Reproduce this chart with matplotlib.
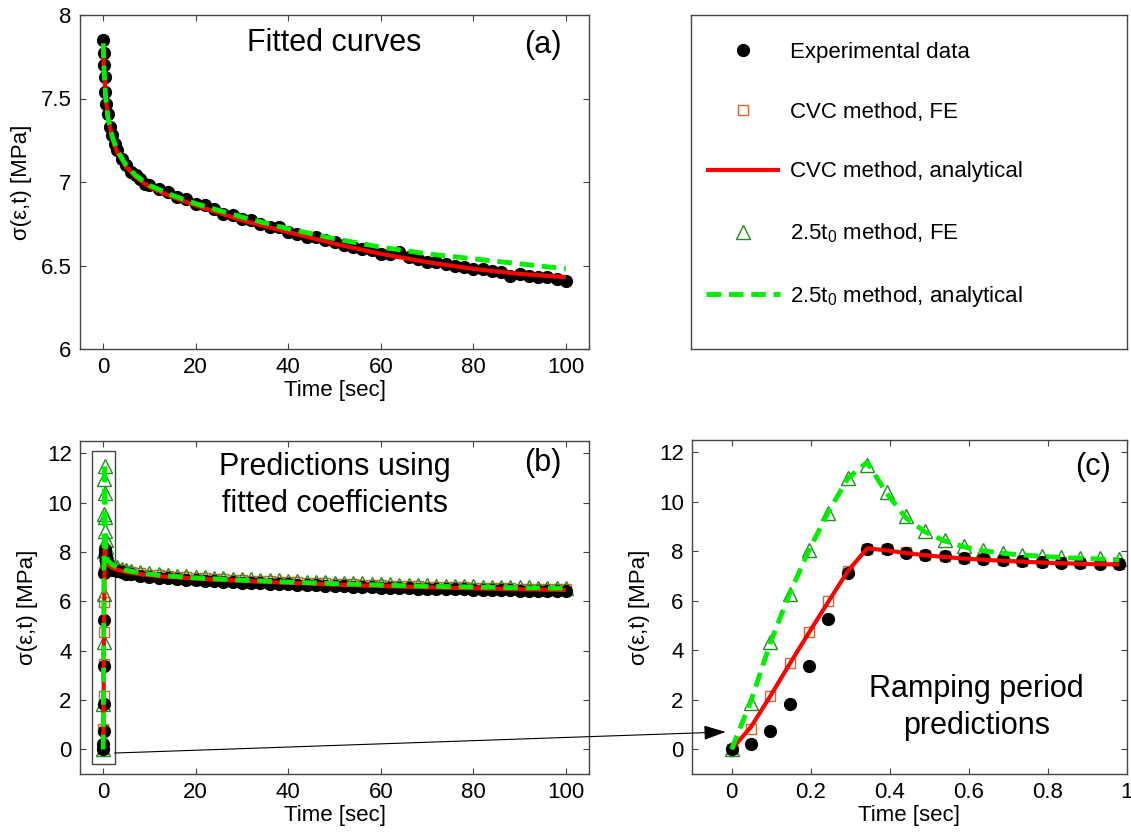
import numpy as np
import matplotlib
matplotlib.use("Agg")
import matplotlib.pyplot as plt
from matplotlib.patches import Rectangle, ConnectionPatch

plt.rcParams['font.family'] = ['Liberation Sans', 'DejaVu Sans']
plt.rcParams['mathtext.fontset'] = 'custom'
plt.rcParams['mathtext.rm'] = 'Liberation Sans'
plt.rcParams['mathtext.it'] = 'Liberation Sans'

# ---- data ----
# shared tail time grid (sec)
t_tail = [12, 14, 16, 18, 20, 22, 24, 26, 28, 30, 32, 34, 36, 38, 40, 42, 44, 46, 48, 50,
          52, 54, 56, 58, 60, 62, 64, 66, 68, 70, 72, 74, 76, 78, 80, 82, 84, 86, 88, 90,
          92, 94, 96, 98, 100]

# (a) fitted curves
t_a = [0, 0.1, 0.2, 0.3, 0.5, 0.7, 1, 1.5, 2, 2.5, 3, 4, 5, 6, 7, 8, 9, 10] + t_tail
exp_a = [7.85, 7.77, 7.70, 7.63, 7.54, 7.47, 7.41, 7.33, 7.28, 7.23, 7.19, 7.14, 7.10, 7.06,
         7.04, 7.02, 6.99, 6.98,
         6.96, 6.94, 6.91, 6.90, 6.87, 6.86, 6.84, 6.81, 6.80, 6.78, 6.77, 6.75, 6.73, 6.73,
         6.70, 6.69, 6.67, 6.67, 6.65, 6.64, 6.62, 6.61, 6.60, 6.59, 6.57, 6.57, 6.58, 6.55,
         6.54, 6.52, 6.52, 6.51, 6.50, 6.49, 6.48, 6.48, 6.47, 6.46, 6.44, 6.45, 6.44, 6.43,
         6.43, 6.42, 6.41]
t_a_line = [0, 0.2, 0.5, 1, 2, 3, 5, 7, 10, 15, 20, 30, 40, 50, 60, 70, 80, 90, 100]
cvc_a = [7.83, 7.67, 7.52, 7.39, 7.26, 7.18, 7.09, 7.03, 6.97, 6.91, 6.86, 6.77, 6.70, 6.63,
         6.57, 6.52, 6.48, 6.45, 6.43]
t25_a = [7.83, 7.67, 7.52, 7.39, 7.27, 7.19, 7.10, 7.04, 6.98, 6.92, 6.87, 6.79, 6.72, 6.66,
         6.61, 6.57, 6.54, 6.51, 6.48]

# (c) ramping period
t_c = [0, 0.049, 0.098, 0.147, 0.196, 0.245, 0.294, 0.343, 0.392, 0.441, 0.49, 0.539,
       0.588, 0.637, 0.686, 0.735, 0.784, 0.833, 0.882, 0.931, 0.98]
exp_c = [0, 0.2, 0.74, 1.82, 3.38, 5.25, 7.13, 8.08, 8.08, 7.95, 7.86, 7.80, 7.72, 7.68,
         7.63, 7.60, 7.57, 7.54, 7.52, 7.50, 7.48]
cvc_fe_c = [0, 0.81, 2.15, 3.47, 4.74, 5.99, 7.19, 8.10, 8.08, 7.97, 7.87, 7.80, 7.74, 7.69,
            7.65, 7.61, 7.58, 7.55, 7.53, 7.51, 7.49]
cvc_an_c = [0, 0.9, 2.15, 3.45, 4.72, 5.97, 7.2, 8.12, 8.04, 7.93, 7.84, 7.77, 7.71, 7.66,
            7.62, 7.58, 7.55, 7.52, 7.50, 7.48, 7.47]
t25_fe_c = [0, 1.85, 4.34, 6.29, 8.04, 9.54, 10.97, 11.5, 10.39, 9.41, 8.84, 8.47, 8.20,
            8.04, 7.93, 7.86, 7.81, 7.77, 7.74, 7.72, 7.70]
t25_an_c = [0, 1.95, 4.3, 6.3, 8.05, 9.6, 10.95, 11.6, 10.35, 9.35, 8.78, 8.42, 8.18, 8.02,
            7.92, 7.85, 7.80, 7.75, 7.72, 7.69, 7.66]

# (b) hold period after the ramp
t_hold = [1.2, 1.6, 2, 3, 4, 5, 6, 8, 10] + t_tail
exp_b = [7.40, 7.33, 7.29, 7.22, 7.18, 7.12, 7.10, 7.03, 7.00, 6.95, 6.94, 6.90, 6.87, 6.86,
         6.84, 6.81, 6.80, 6.78, 6.76, 6.75, 6.74, 6.71, 6.71, 6.69, 6.67, 6.66, 6.65, 6.63,
         6.62, 6.61, 6.60, 6.59, 6.57, 6.56, 6.55, 6.54, 6.53, 6.52, 6.50, 6.50, 6.50, 6.48,
         6.48, 6.47, 6.46, 6.45, 6.45, 6.44, 6.43, 6.43, 6.42, 6.41, 6.41, 6.40]
cvc_fe_b = [7.48, 7.43, 7.38, 7.31, 7.26, 7.22, 7.18, 7.13, 7.08, 7.05, 7.02, 6.99, 6.97, 6.95,
            6.93, 6.91, 6.89, 6.87, 6.86, 6.84, 6.83, 6.81, 6.80, 6.78, 6.77, 6.75, 6.74, 6.73,
            6.71, 6.70, 6.69, 6.68, 6.66, 6.65, 6.64, 6.63, 6.62, 6.61, 6.60, 6.59, 6.59, 6.58,
            6.57, 6.56, 6.55, 6.54, 6.54, 6.53, 6.52, 6.52, 6.51, 6.50, 6.50, 6.49]
t25_fe_b = [7.64, 7.56, 7.48, 7.39, 7.33, 7.28, 7.24, 7.18, 7.13, 7.10, 7.07, 7.04, 7.02, 7.00,
            6.98, 6.96, 6.94, 6.92, 6.91, 6.89, 6.88, 6.86, 6.85, 6.83, 6.82, 6.80, 6.79, 6.78,
            6.76, 6.75, 6.74, 6.73, 6.71, 6.70, 6.69, 6.68, 6.67, 6.66, 6.65, 6.64, 6.64, 6.63,
            6.62, 6.61, 6.60, 6.59, 6.59, 6.58, 6.57, 6.57, 6.56, 6.55, 6.55, 6.54]
t_b_line = [1.2, 2, 3, 5, 8, 12, 20, 30, 40, 50, 60, 70, 80, 90, 100]
cvc_an_b = [7.45, 7.35, 7.28, 7.19, 7.10, 7.02, 6.92, 6.83, 6.75, 6.68, 6.62, 6.57, 6.53, 6.49, 6.46]
t25_an_b = [7.62, 7.48, 7.38, 7.26, 7.15, 7.06, 6.95, 6.86, 6.78, 6.72, 6.66, 6.61, 6.58, 6.55, 6.53]

labels = ['Experimental data', 'CVC method, FE', 'CVC method, analytical',
          '2.5t$_0$ method, FE', '2.5t$_0$ method, analytical']

# ---- styles ----
SQ_C = '#cc6633'
TRI_C = '#228b22'
DASH_C = '#00ee00'
SPINE_C = '#444444'
exp_kw = dict(ls='none', marker='o', ms=8.5, mfc='k', mec='k')
sq_kw = dict(ls='none', marker='s', ms=7, mfc='none', mec=SQ_C, mew=1)
tri_kw = dict(ls='none', marker='^', ms=9.5, mfc='none', mec=TRI_C, mew=1)
red_kw = dict(color='red', lw=3, solid_capstyle='butt')
dash_kw = dict(color=DASH_C, lw=3.5, ls=(0, (3, 1.6)))

W, H = 1131, 834
fig = plt.figure(figsize=(W / 100, H / 100), dpi=100)


def px_axes(l, t, r, b):
    return fig.add_axes([l / W, 1 - b / H, (r - l) / W, (b - t) / H])


def style(ax):
    for s in ax.spines.values():
        s.set_color(SPINE_C)
        s.set_linewidth(1)
    ax.tick_params(direction='in', top=True, right=True, length=4, width=0.8,
                   color=SPINE_C, labelsize=16, pad=6)


ax_a = px_axes(80, 15, 589, 349)
ax_b = px_axes(80, 441, 589, 774)
ax_c = px_axes(692, 440, 1127, 774)
ax_l = px_axes(691, 15, 1127, 349)

# (a)
ax_a.plot(t_a, exp_a, **exp_kw)
ax_a.plot(t_a_line, cvc_a, **red_kw)
ax_a.plot(t_a_line, t25_a, **dash_kw)
ax_a.set_xlim(-5, 105)
ax_a.set_ylim(6, 8)
ax_a.set_xticks([0, 20, 40, 60, 80, 100])
ax_a.set_yticks([6, 6.5, 7, 7.5, 8])
ax_a.set_yticklabels(['6', '6.5', '7', '7.5', '8'])
ax_a.text(50, 7.83, 'Fitted curves', ha='center', va='center', fontsize=22)
ax_a.text(95, 7.82, '(a)', ha='center', va='center', fontsize=22)

# (b)
ax_b.plot(t_c, cvc_fe_c, **sq_kw)
ax_b.plot(t_hold, cvc_fe_b, **sq_kw)
ax_b.plot(t_c, t25_fe_c, **tri_kw)
ax_b.plot(t_hold, t25_fe_b, **tri_kw)
ax_b.plot(t_c, exp_c, **exp_kw)
ax_b.plot(t_hold, exp_b, **exp_kw)
ax_b.plot(t_c + t_b_line, cvc_an_c + cvc_an_b, **red_kw)
ax_b.plot(t_c + t_b_line, t25_an_c + t25_an_b, **dash_kw)
ax_b.add_patch(Rectangle((-2.4, -0.6), 4.9, 12.7, fill=False, ec=SPINE_C, lw=1))
ax_b.set_xlim(-5, 105)
ax_b.set_ylim(-1, 12.5)
ax_b.set_xticks([0, 20, 40, 60, 80, 100])
ax_b.set_yticks(range(0, 13, 2))
ax_b.text(50, 10.7, 'Predictions using\nfitted coefficients', ha='center', va='center',
          fontsize=22, linespacing=1.3)
ax_b.text(95, 11.6, '(b)', ha='center', va='center', fontsize=22)

# (c)
ax_c.plot(t_c, cvc_fe_c, **sq_kw)
ax_c.plot(t_c, t25_fe_c, **tri_kw)
ax_c.plot(t_c, exp_c, **exp_kw)
ax_c.plot(t_c, cvc_an_c, **red_kw)
ax_c.plot(t_c, t25_an_c, **dash_kw)
ax_c.set_xlim(-0.1, 1)
ax_c.set_ylim(-1, 12.5)
ax_c.set_xticks([0, 0.2, 0.4, 0.6, 0.8, 1])
ax_c.set_xticklabels(['0', '0.2', '0.4', '0.6', '0.8', '1'])
ax_c.set_yticks(range(0, 13, 2))
ax_c.text(0.62, 1.67, 'Ramping period\npredictions', ha='center', va='center',
          fontsize=22, linespacing=1.3)
ax_c.text(0.915, 11.4, '(c)', ha='center', va='center', fontsize=22)

for ax in (ax_a, ax_b, ax_c):
    style(ax)
    ax.set_xlabel('Time [sec]', fontsize=16, labelpad=1)
    ax.set_ylabel('σ(ε,t) [MPa]', fontsize=16, labelpad=6)

# legend panel
for s in ax_l.spines.values():
    s.set_color(SPINE_C)
    s.set_linewidth(1)
ax_l.set_xticks([])
ax_l.set_yticks([])
handles = ax_c.get_lines()
order = [2, 0, 3, 1, 4]
ax_l.legend([handles[i] for i in order], labels, loc='upper left',
            bbox_to_anchor=(0.034, 0.92), frameon=False, fontsize=16,
            handlelength=3.35, handletextpad=0.45, labelspacing=1.75,
            numpoints=1, borderaxespad=0, borderpad=0)

# arrow from the zoom box in (b) to panel (c)
arrow = ConnectionPatch(xyA=(2.5, -0.15), coordsA=ax_b.transData,
                        xyB=(-0.015, 0.7), coordsB=ax_c.transData,
                        arrowstyle='-|>,head_length=0.9,head_width=0.3',
                        mutation_scale=15, color='k', lw=0.8)
fig.add_artist(arrow)

fig.savefig('out.png', dpi=100)
